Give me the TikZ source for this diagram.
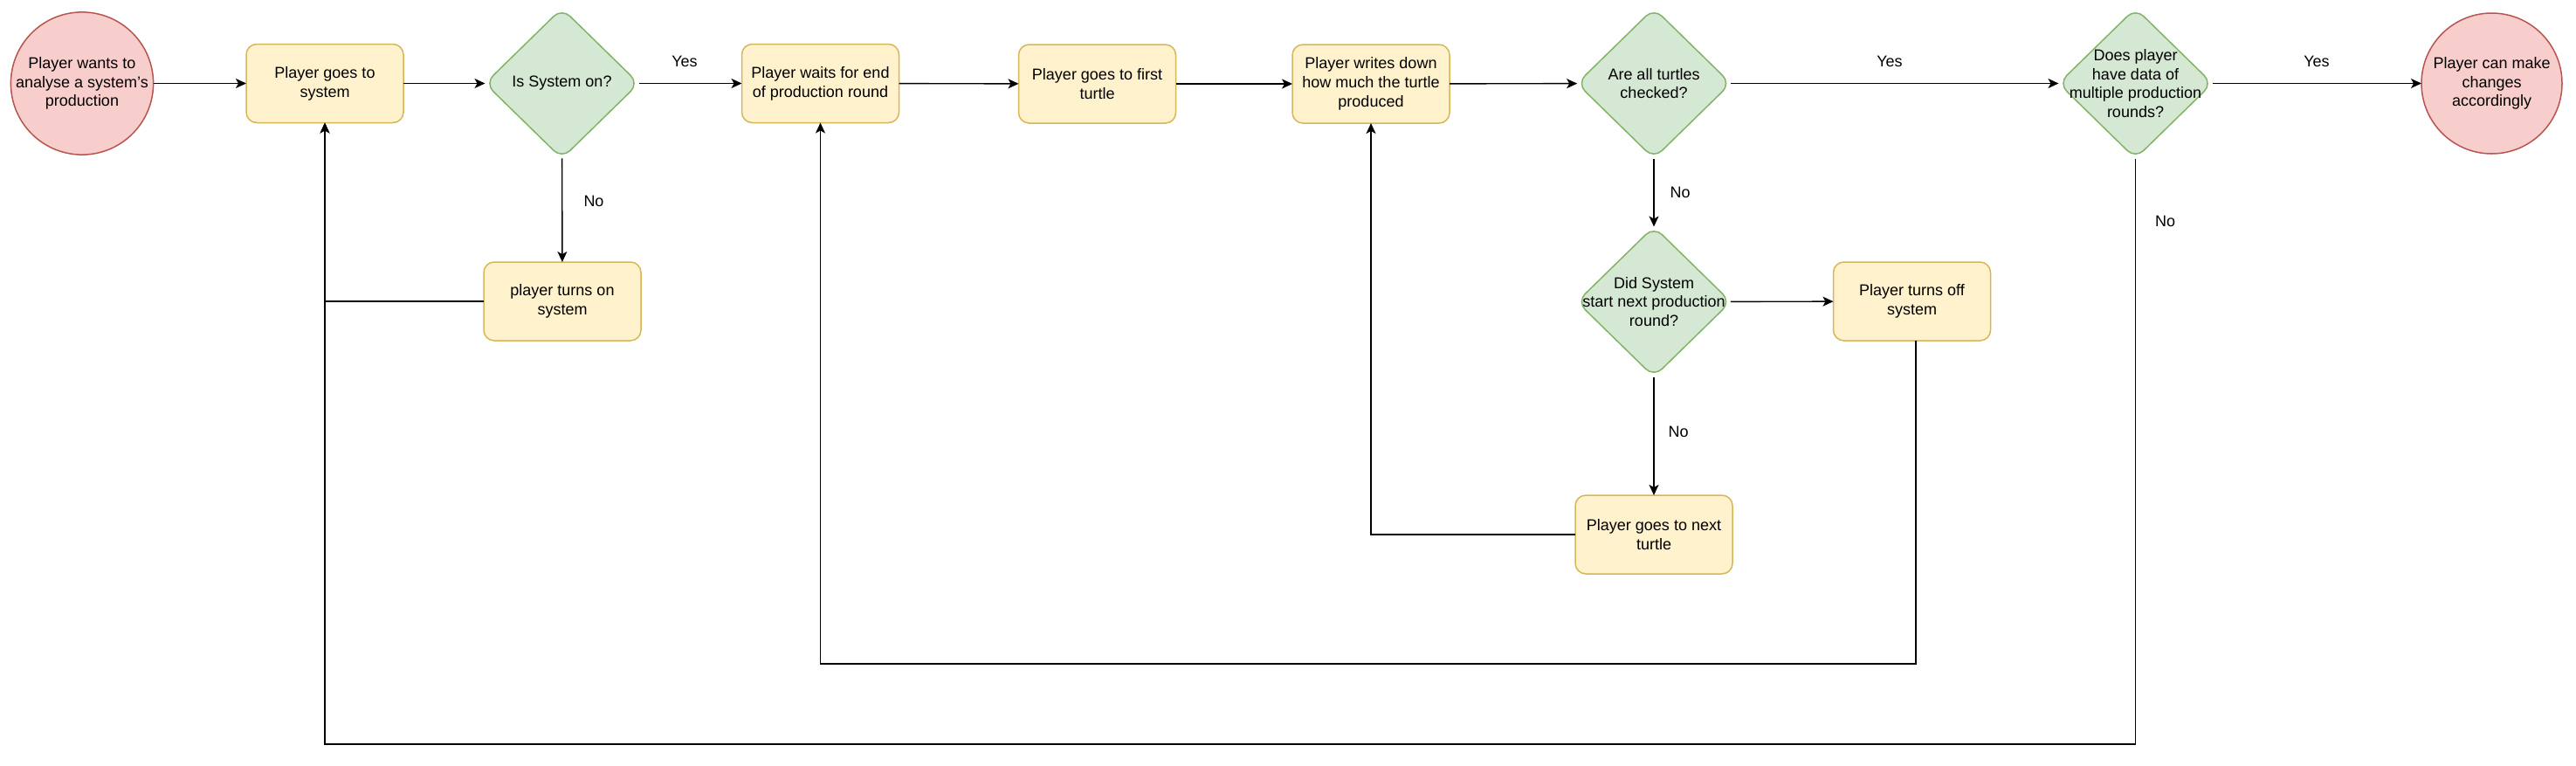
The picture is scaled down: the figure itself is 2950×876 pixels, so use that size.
\documentclass[tikz,border=0pt]{standalone}
\usepackage{fontspec}
\setmainfont{Liberation Sans}
\usetikzlibrary{shapes.geometric,arrows.meta}
\definecolor{yfill}{HTML}{FFF2CC}
\definecolor{ydraw}{HTML}{D6B656}
\definecolor{gfill}{HTML}{D5E8D4}
\definecolor{gdraw}{HTML}{82B366}
\definecolor{rfill}{HTML}{F8CECC}
\definecolor{rdraw}{HTML}{B85450}
\tikzset{
  procbox/.style={rectangle, rounded corners=12pt, draw=ydraw, fill=yfill, line width=1.5pt,
    minimum width=180pt, minimum height=90pt, inner sep=0pt, outer sep=0pt, align=center,
    font=\fontsize{18}{21.7}\selectfont},
  decbox/.style={diamond, rounded corners=13pt, draw=gdraw, fill=gfill, line width=1.5pt,
    minimum width=176pt, minimum height=172pt, inner sep=0pt, outer sep=0pt},
  dectext/.style={align=center, inner sep=0pt, font=\fontsize{18}{21.7}\selectfont},
  termbox/.style={circle, draw=rdraw, fill=rfill, line width=1.5pt, minimum size=161pt,
    inner sep=0pt, outer sep=0pt, align=center, font=\fontsize{18}{21.7}\selectfont},
  flow/.style={draw=black, line width=1.4pt, -{Stealth[length=12pt, width=11pt, inset=3pt]}},
  lbl/.style={font=\fontsize{18}{21.7}\selectfont, inner sep=0pt}
}
\begin{document}
\begin{tikzpicture}[x=1pt, y=-1pt]
\useasboundingbox (0,0) rectangle (2950,876);

\node[termbox] (start) at (94,95.5) {Player wants to\\analyse a system's\\production};
\node[procbox] (gosys) at (372,95.5) {Player goes to\\system};
\node[decbox] (ison) at (643.5,95.5) {};
\node[dectext] (isont) at (ison.center) {Is System on?};
\node[procbox] (wait) at (939.5,95.5) {Player waits for end\\of production round};
\node[procbox] (turnon) at (644,345) {player turns on\\system};
\node[procbox] (first) at (1256.5,96) {Player goes to first\\turtle};
\node[procbox] (write) at (1570,96) {Player writes down\\how much the turtle\\produced};
\node[decbox] (allchk) at (1894,95.5) {};
\node[dectext] (allchkt) at (allchk.center) {Are all turtles\\checked?};
\node[decbox] (nextrd) at (1894,345.5) {};
\node[dectext] (nextrdt) at (nextrd.center) {Did System\\start next production\\round?};
\node[procbox] (turnoff) at (2189.5,345) {Player turns off\\system};
\node[procbox] (nextt) at (1894,612) {Player goes to next\\turtle};
\node[decbox] (multi) at (2445.5,95.5) {};
\node[dectext] (multit) at (multi.center) {Does player\\have data of\\multiple production\\rounds?};
\node[termbox] (finish) at (2853.5,95.5) {Player can make\\changes\\accordingly};

\coordinate (c1) at (372,345);
\coordinate (c2) at (1570,612);
\coordinate (c3) at (2194,760);
\coordinate (c4) at (939.5,760);
\coordinate (c5) at (2445.5,852);
\coordinate (c6) at (372,852);

\draw[flow] (start) -- (gosys);
\draw[flow] (gosys) -- (ison);
\draw[flow] (ison) -- (wait);
\draw[flow] (ison) -- (turnon);
\draw[flow] (turnon.west) -- (c1) -- (gosys.south);
\draw[flow] (wait) -- (first);
\draw[flow] (first) -- (write);
\draw[flow] (write) -- (allchk);
\draw[flow] (allchk) -- (multi);
\draw[flow] (multi) -- (finish);
\draw[flow] (allchk) -- (nextrd);
\draw[flow] (nextrd) -- (turnoff);
\draw[flow] (nextrd) -- (nextt);
\draw[flow] (nextt.west) -- (c2) -- (write.south);
\draw[flow] ([xshift=4.5pt]turnoff.south) -- (c3) -- (c4) -- (wait.south);
\draw[flow] (multi.south) -- (c5) -- (c6) -- (gosys.south);

\node[lbl] (yes1) at (784,70) {Yes};
\node[lbl] (yes2) at (2164,70) {Yes};
\node[lbl] (yes3) at (2653,70) {Yes};
\node[lbl] (no1) at (680,230) {No};
\node[lbl] (no2) at (1924,220) {No};
\node[lbl] (no3) at (1922,494) {No};
\node[lbl] (no4) at (2479.5,253) {No};
\end{tikzpicture}
\end{document}
